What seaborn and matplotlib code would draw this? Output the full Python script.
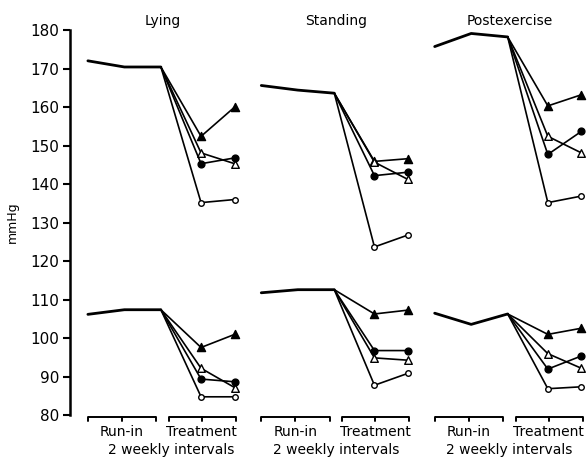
import numpy as np
import matplotlib
matplotlib.use('Agg')
import matplotlib.pyplot as plt
import seaborn as sns

# 数据 (mmHg)
panels = ['Lying', 'Standing', 'Postexercise']

# 导入期 3 个点: 收缩压 / 舒张压
runin_sys = [[172.0, 170.4, 170.4], [165.6, 164.4, 163.6], [175.7, 179.1, 178.2]]
runin_dia = [[106.2, 107.4, 107.4], [111.8, 112.6, 112.6], [106.5, 103.6, 106.3]]

# 治疗期 2 个点, 4 组 (实心三角, 空心三角, 实心圆, 空心圆)
sys_ftri = [[152.4, 160.0], [145.9, 146.6], [160.3, 163.2]]
sys_otri = [[148.1, 145.3], [145.7, 141.2], [152.4, 148.1]]
sys_fcirc = [[145.3, 146.8], [142.2, 143.1], [147.7, 153.7]]
sys_ocirc = [[135.2, 136.0], [123.7, 126.8], [135.2, 136.9]]

dia_ftri = [[97.6, 101.0], [106.3, 107.3], [101.0, 102.6]]
dia_otri = [[92.2, 87.2], [94.9, 94.3], [96.0, 92.2]]
dia_fcirc = [[89.4, 88.7], [96.8, 96.8], [92.0, 95.4]]
dia_ocirc = [[84.8, 84.8], [87.8, 90.9], [86.9, 87.4]]

yticks = [80, 90, 100, 110, 120, 130, 140, 150, 160, 170, 180]

# x 位置 (每个面板内部)
x_pts = np.array([0, 1, 2, 3.1, 4.02])
panel_step = 4.75
groups = [
    ('^', 'black', sys_ftri, dia_ftri, 34),
    ('^', 'white', sys_otri, dia_otri, 30),
    ('o', 'black', sys_fcirc, dia_fcirc, 24),
    ('o', 'white', sys_ocirc, dia_ocirc, 16),
]

sns.set_style('ticks')
plt.rcParams['font.family'] = ['DejaVu Sans']
plt.rcParams['text.color'] = 'black'
plt.rcParams['axes.labelcolor'] = 'black'
plt.rcParams['axes.edgecolor'] = 'black'
plt.rcParams['ytick.color'] = 'black'

fig = plt.figure(figsize=(5.88, 4.58), dpi=100)
ax = fig.add_axes([70 / 588, 1 - 415.3 / 458, 518 / 588, 385.3 / 458])

for i, name in enumerate(panels):
    off = i * panel_step
    for runin, key in ((runin_sys, 1), (runin_dia, 2)):
        sns.lineplot(x=off + x_pts[:3], y=runin[i], color='black', linewidth=2.0,
                     ax=ax, legend=False)
        for marker, face, s_vals, d_vals, size in groups:
            vals = s_vals if key == 1 else d_vals
            sns.lineplot(x=off + x_pts[2:], y=[runin[i][2]] + vals[i], color='black',
                         linewidth=1.2, ax=ax, legend=False, sort=False)
            sns.scatterplot(x=off + x_pts[3:], y=vals[i], marker=marker, s=size,
                            color=face, edgecolor='black', linewidth=1.0,
                            ax=ax, zorder=4, legend=False, clip_on=False)

    # 标题
    ax.text(off + 2.05, 182.4, name, ha='center', va='center', fontsize=10,
            clip_on=False)

    # 括号 (导入期 / 治疗期)
    for a, m, b in ((0.0, 0.93, 1.87), (2.22, 3.12, 4.05)):
        ax.plot([off + a, off + b], [79.6, 79.6], color='black', lw=1.4,
                clip_on=False, solid_capstyle='butt')
        for xx in (a, m, b):
            ax.plot([off + xx, off + xx], [79.6, 78.4], color='black', lw=1.4,
                    clip_on=False)
    ax.text(off + 0.93, 75.6, 'Run-in', ha='center', va='center', fontsize=10,
            clip_on=False)
    ax.text(off + 3.12, 75.6, 'Treatment', ha='center', va='center', fontsize=10,
            clip_on=False)
    ax.text(off + (2.27 if i == 0 else 2.05), 71.0, '2 weekly intervals',
            ha='center', va='center', fontsize=10, clip_on=False)

ax.set_xlim(-0.49, 13.7)
ax.set_ylim(80, 180)
ax.set_yticks(yticks)
ax.set_yticklabels([str(t) for t in yticks])
ax.set_xticks([])
ax.set_xlabel('')
ax.tick_params(axis='y', length=5, width=1.5, labelsize=11, pad=3, colors='black')
for side in ('top', 'right', 'bottom'):
    ax.spines[side].set_visible(False)
ax.spines['left'].set_linewidth(1.8)
ax.spines['left'].set_color('black')
ax.set_ylabel('mmHg', fontsize=9, labelpad=8)
ax.patch.set_alpha(0)

fig.savefig('out.png', dpi=100)
